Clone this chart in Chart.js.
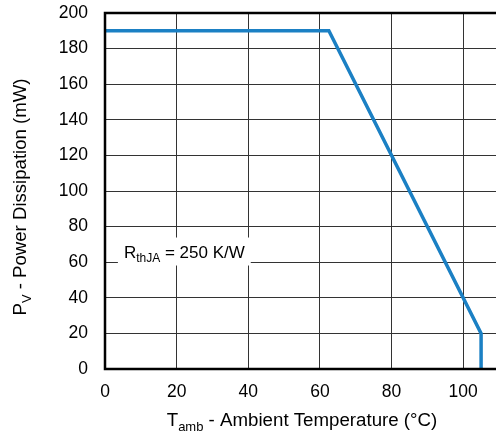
<!DOCTYPE html>
<html>
<head>
<meta charset="utf-8">
<script src="https://cdn.jsdelivr.net/npm/chart.js@4.4.1/dist/chart.umd.min.js"></script>
<style>
    html, body { margin: 0; padding: 0; background: #fff; overflow: hidden; }
    canvas { display: block; }
</style>
</head>
<body>
<canvas id="deratingChart" width="500" height="433"></canvas>
<script>
// Derating curve data
const temperatures = [0, 62.5, 105, 105];
const powerValues = [190, 190, 20, 0];
const xTicks = [0, 20, 40, 60, 80, 100];
const yTicks = [0, 20, 40, 60, 80, 100, 120, 140, 160, 180, 200];

const FONT = 'Arial, "Liberation Sans", sans-serif';

// Draws frame, subscripted axis titles and the R_thJA note
const decorations = {
    id: 'decorations',
    afterDraw(chart) {
        const ctx = chart.ctx;
        const area = chart.chartArea;
        const xs = chart.scales.x;
        const ys = chart.scales.y;

        ctx.save();
        // frame
        ctx.strokeStyle = '#000';
        ctx.lineWidth = 2.5;
        ctx.beginPath();
        ctx.moveTo(area.right + 2, area.top);
        ctx.lineTo(area.left, area.top);
        ctx.lineTo(area.left, area.bottom);
        ctx.lineTo(area.right + 2, area.bottom);
        ctx.stroke();

        // annotation box
        const bx = xs.getPixelForValue(3.6);
        const by = ys.getPixelForValue(66);
        ctx.font = '17px ' + FONT;
        const w1 = ctx.measureText('R').width;
        ctx.font = '12px ' + FONT;
        const w2 = ctx.measureText('thJA').width;
        ctx.font = '17px ' + FONT;
        const w3 = ctx.measureText(' = 250 K/W').width;
        const boxW = w1 + w2 + w3 + 12;
        ctx.fillStyle = '#fff';
        ctx.fillRect(bx, by - 14, boxW, 28);
        ctx.fillStyle = '#000';
        ctx.textBaseline = 'alphabetic';
        ctx.textAlign = 'left';
        let tx = bx + 6;
        const base = by + 6;
        ctx.fillText('R', tx, base);
        tx += w1;
        ctx.font = '12px ' + FONT;
        ctx.fillText('thJA', tx, base + 4);
        tx += w2;
        ctx.font = '17px ' + FONT;
        ctx.fillText(' = 250 K/W', tx, base);

        // x axis title
        const xParts = [['T', 18.7, 0], ['amb', 13, 5], [' - Ambient Temperature (°C)', 18.7, 0]];
        drawParts(ctx, xParts, 302, 426);

        // y axis title (rotated)
        ctx.translate(21, 197);
        ctx.rotate(-Math.PI / 2);
        const yParts = [['P', 18.6, 0], ['V', 13, 5], [' - Power Dissipation (mW)', 18.6, 0]];
        drawParts(ctx, yParts, 0, 5);
        ctx.restore();
    }
};

function drawParts(ctx, parts, cx, baseY) {
    let total = 0;
    parts.forEach(p => {
        ctx.font = p[1] + 'px ' + FONT;
        total += ctx.measureText(p[0]).width;
    });
    let x = cx - total / 2;
    ctx.fillStyle = '#000';
    ctx.textAlign = 'left';
    ctx.textBaseline = 'alphabetic';
    parts.forEach(p => {
        ctx.font = p[1] + 'px ' + FONT;
        ctx.fillText(p[0], x, baseY + p[2]);
        x += ctx.measureText(p[0]).width;
    });
}

const ctx = document.getElementById('deratingChart').getContext('2d');
new Chart(ctx, {
    type: 'line',
    data: {
        datasets: [{
            data: temperatures.map((t, i) => ({ x: t, y: powerValues[i] })),
            borderColor: '#1b80c4',
            borderWidth: 3.5,
            pointRadius: 0,
            tension: 0,
            fill: false,
            clip: false
        }]
    },
    options: {
        responsive: false,
        animation: false,
        layout: {
            padding: { top: 13, right: 1, left: 0, bottom: 0 }
        },
        plugins: {
            legend: { display: false },
            tooltip: { enabled: false }
        },
        scales: {
            x: {
                type: 'linear',
                min: 0,
                max: 110,
                afterFit(scale) {
                    scale.height = 64;
                    scale.paddingLeft = 0;
                    scale.paddingRight = 0;
                },
                afterBuildTicks(scale) { scale.ticks = xTicks.map(v => ({ value: v })); },
                grid: { color: '#333', lineWidth: 1, drawTicks: false },
                border: { display: false },
                ticks: {
                    padding: 13,
                    color: '#000',
                    font: { family: FONT, size: 17.5 },
                    maxRotation: 0
                }
            },
            y: {
                min: 0,
                max: 200,
                afterFit(scale) {
                    scale.width = 105;
                    scale.paddingTop = 0;
                    scale.paddingBottom = 0;
                },
                afterBuildTicks(scale) { scale.ticks = yTicks.map(v => ({ value: v })); },
                grid: { color: '#333', lineWidth: 1, drawTicks: false },
                border: { display: false },
                ticks: {
                    padding: 17,
                    color: '#000',
                    font: { family: FONT, size: 17.5 }
                }
            }
        }
    },
    plugins: [decorations]
});
</script>
</body>
</html>
